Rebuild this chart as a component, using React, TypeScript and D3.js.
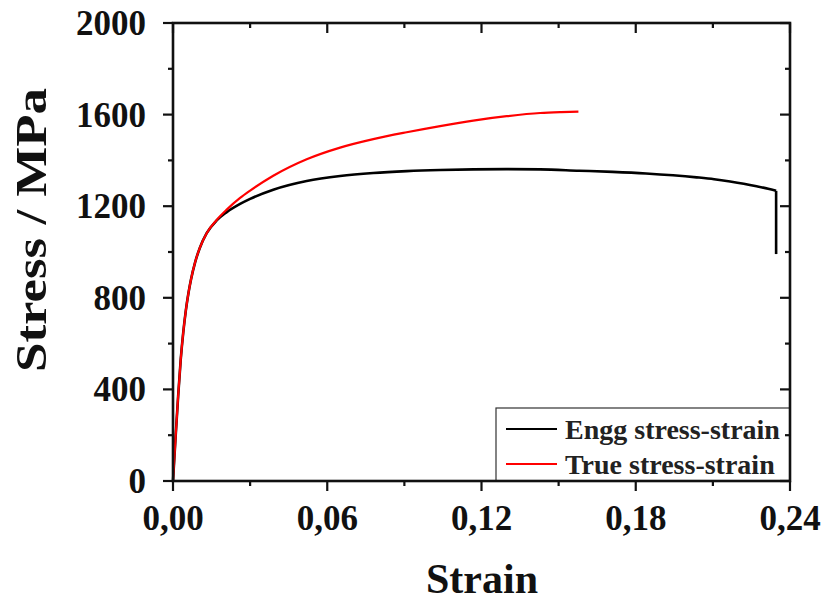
import React from "react";
import * as d3 from "d3";

const strainEngg = [0, 0.001, 0.002, 0.003, 0.004, 0.005, 0.006, 0.007, 0.0086, 0.0105, 0.0131, 0.017, 0.0209, 0.0261, 0.03, 0.039, 0.052, 0.065, 0.0779, 0.0909, 0.1039, 0.1168, 0.1298, 0.1428, 0.158, 0.171, 0.184, 0.1945, 0.2037, 0.2105, 0.2167, 0.222, 0.227, 0.2315, 0.2346, 0.2346];
const stressEngg = [0, 190, 370, 530, 650, 745, 820, 880, 955, 1020, 1082, 1138, 1174, 1210, 1232, 1272, 1310, 1332, 1345, 1353, 1358, 1361, 1362, 1361, 1355, 1350, 1343, 1335, 1326, 1318, 1308, 1298, 1287, 1276, 1267, 991];

const strainTrue = [0, 0.001, 0.002, 0.003, 0.004, 0.005, 0.006, 0.007, 0.0086, 0.0105, 0.0131, 0.017, 0.0209, 0.0261, 0.03, 0.039, 0.052, 0.065, 0.0779, 0.0909, 0.1039, 0.1168, 0.1298, 0.1428, 0.151, 0.1577];
const stressTrue = [0, 190, 370, 530, 650, 745, 820, 880, 955, 1020, 1082, 1140, 1185, 1236, 1268, 1333, 1405, 1456, 1493, 1523, 1550, 1574, 1593, 1607, 1611, 1613];

const xTicks = [0, 0.06, 0.12, 0.18, 0.24];
const xMinor = [0.03, 0.09, 0.15, 0.21];
const yTicks = [0, 400, 800, 1200, 1600, 2000];
const yMinor = [200, 600, 1000, 1400, 1800];
const legendLabels = ["Engg stress-strain", "True stress-strain"];
const seriesColors = ["#000000", "#ff0000"];

const W = 826, H = 604;
const L = 173, R = 790, T = 23, B = 481;
const FONT = "'Liberation Serif', 'Times New Roman', serif";

export default function App() {
  const x = d3.scaleLinear().domain([0, 0.24]).range([L, R]);
  const y = d3.scaleLinear().domain([0, 2000]).range([B, T]);
  const lineSmooth = d3.line<[number, number]>().x(d => x(d[0])).y(d => y(d[1])).curve(d3.curveMonotoneX);
  const lineStraight = d3.line<[number, number]>().x(d => x(d[0])).y(d => y(d[1]));
  const engg: [number, number][] = strainEngg.map((s, i) => [s, stressEngg[i]]);
  const tru: [number, number][] = strainTrue.map((s, i) => [s, stressTrue[i]]);
  const enggMain = engg.slice(0, engg.length - 1);
  const enggDrop = engg.slice(engg.length - 2);
  const fmt = (v: number) => v.toFixed(2).replace(".", ",");

  return (
    <svg width={W} height={H} style={{ position: "absolute", left: 0, top: 0, background: "#fff" }}>
      <rect x={0} y={0} width={W} height={H} fill="#fff" />
      {/* curves */}
      <path d={lineSmooth(enggMain) || ""} fill="none" stroke={seriesColors[0]} strokeWidth={2.6} strokeLinejoin="round" />
      <path d={lineStraight(enggDrop) || ""} fill="none" stroke={seriesColors[0]} strokeWidth={2.6} />
      <path d={lineSmooth(tru) || ""} fill="none" stroke={seriesColors[1]} strokeWidth={2.2} strokeLinejoin="round" />

      {/* legend */}
      <rect x={496} y={408} width={R - 496} height={B - 408} fill="#fff" stroke="#333" strokeWidth={1.2} />
      {legendLabels.map((lab, i) => (
        <g key={lab}>
          <line x1={506} x2={557} y1={429 + i * 35} y2={429 + i * 35} stroke={seriesColors[i]} strokeWidth={2} />
          <text x={565} y={439 + i * 35} fontFamily={FONT} fontWeight="bold" fontSize={28} fill="#222">{lab}</text>
        </g>
      ))}

      {/* frame */}
      <rect x={L} y={T} width={R - L} height={B - T} fill="none" stroke="#111" strokeWidth={2.6} />

      {/* x ticks */}
      {xTicks.map(t => (
        <g key={"xt" + t}>
          <line x1={x(t)} x2={x(t)} y1={B} y2={B + 10} stroke="#111" strokeWidth={2.2} />
          <line x1={x(t)} x2={x(t)} y1={T} y2={T + 10} stroke="#111" strokeWidth={2.2} />
          <text x={x(t)} y={530} textAnchor="middle" fontFamily={FONT} fontWeight="bold" fontSize={35} fill="#111">{fmt(t)}</text>
        </g>
      ))}
      {xMinor.map(t => (
        <g key={"xm" + t}>
          <line x1={x(t)} x2={x(t)} y1={B} y2={B + 5} stroke="#111" strokeWidth={2.2} />
          <line x1={x(t)} x2={x(t)} y1={T} y2={T + 5} stroke="#111" strokeWidth={2.2} />
        </g>
      ))}
      {/* y ticks */}
      {yTicks.map(t => (
        <g key={"yt" + t}>
          <line x1={L - 10} x2={L} y1={y(t)} y2={y(t)} stroke="#111" strokeWidth={2.2} />
          <line x1={R - 10} x2={R} y1={y(t)} y2={y(t)} stroke="#111" strokeWidth={2.2} />
          <text x={146} y={y(t) + 12} textAnchor="end" fontFamily={FONT} fontWeight="bold" fontSize={35} fill="#111">{t}</text>
        </g>
      ))}
      {yMinor.map(t => (
        <g key={"ym" + t}>
          <line x1={L - 5} x2={L} y1={y(t)} y2={y(t)} stroke="#111" strokeWidth={2.2} />
          <line x1={R - 5} x2={R} y1={y(t)} y2={y(t)} stroke="#111" strokeWidth={2.2} />
        </g>
      ))}

      {/* axis titles */}
      <text x={482} y={593} textAnchor="middle" fontFamily={FONT} fontWeight="bold" fontSize={42} fill="#111">Strain</text>
      <text transform={`translate(46,230) rotate(-90)`} textAnchor="middle" fontFamily={FONT} fontWeight="bold" fontSize={45} textLength={284} lengthAdjust="spacingAndGlyphs" fill="#111">Stress / MPa</text>
    </svg>
  );
}
